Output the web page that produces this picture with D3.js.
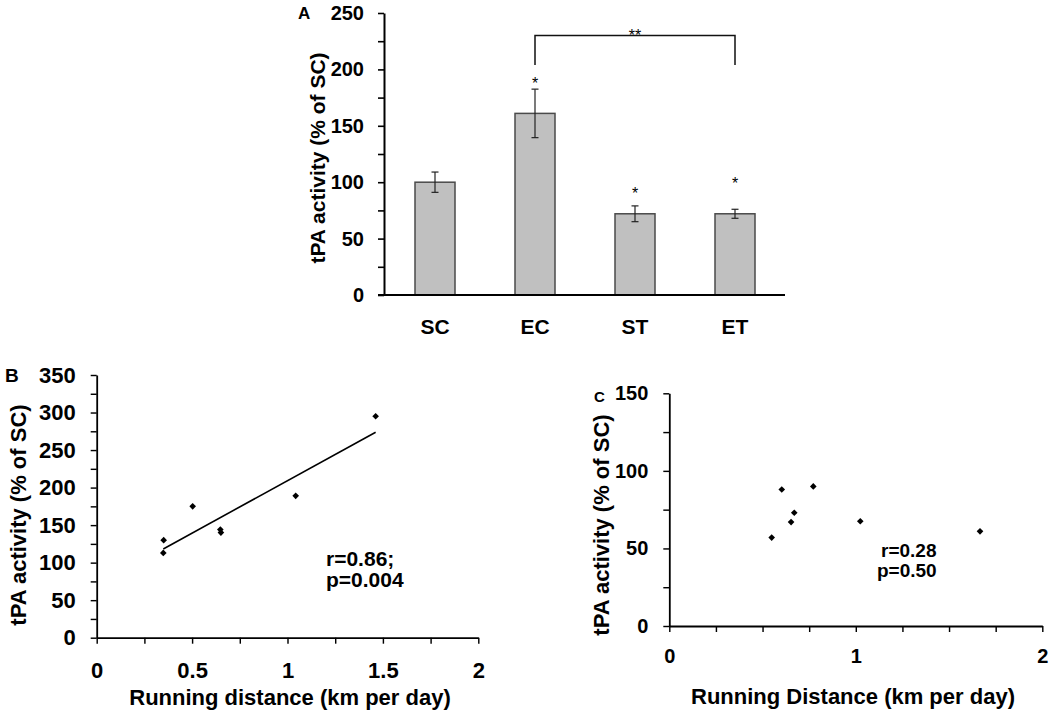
<!DOCTYPE html>
<html><head><meta charset="utf-8">
<script src="https://cdn.jsdelivr.net/npm/d3@7"></script>
<style>
body{margin:0;background:#fff}
text{font-family:"Liberation Sans",Arial,Helvetica,sans-serif;font-weight:bold;fill:#000}
</style>
</head><body>
<svg id="chart" width="1050" height="711" xmlns="http://www.w3.org/2000/svg"></svg>
<script>
// ---------------- DATA ----------------
const categoriesA = ["SC", "EC", "ST", "ET"];
const meansA = [100, 161, 72, 72];
const errorsA = [9, 21.5, 7, 4];
const starValuesA = [null, 191, 93, 102];
const bracketA = ["EC", "ET"];
const bracketLevelsA = [230, 204];
const bracketLabelA = "**";
const yTicksA = [0, 25, 50, 75, 100, 125, 150, 175, 200, 225, 250];

const distanceB = [1.462, 1.043, 0.503, 0.648, 0.651, 0.351, 0.349];
const tpaB = [295, 189, 175, 144, 140, 130, 113];
const yTicksB = [0, 25, 50, 75, 100, 125, 150, 175, 200, 225, 250, 275, 300, 325, 350];
const xTicksB = [0, 0.25, 0.5, 0.75, 1, 1.25, 1.5, 1.75, 2];
const statsB = ["r=0.86;", "p=0.004"];

const distanceC = [0.549, 0.603, 0.653, 0.670, 0.772, 1.024, 1.666];
const tpaC = [57, 88, 67, 73, 90, 67.5, 61];
const yTicksC = [0, 25, 50, 75, 100, 125, 150];
const xTicksC = [0, 0.25, 0.5, 0.75, 1, 1.25, 1.5, 1.75, 2];
const statsC = ["r=0.28", "p=0.50"];

const yTitle = "tPA activity (% of SC)";
const xTitleB = "Running distance (km per day)";
const xTitleC = "Running Distance (km per day)";

// ---------------- DRAW ----------------
const svg = d3.select("#chart");
svg.append("rect").attr("width", 1050).attr("height", 711).attr("fill", "#fff");

function styleAxis(g, w) {
  g.selectAll(".domain").attr("stroke", "#000").attr("stroke-width", w);
  g.selectAll(".tick line").attr("stroke", "#000").attr("stroke-width", w * 0.8);
  g.selectAll(".tick text").attr("fill", "#000").style("font-weight", "bold")
    .style("font-family", '"Liberation Sans",Arial,sans-serif');
}

// ===== Panel A =====
(function () {
  const g = svg.append("g");
  const y = d3.scaleLinear().domain([0, 250]).range([295, 13]);
  const x = d3.scaleBand().domain(categoriesA).range([385, 785]).paddingInner(0.6).paddingOuter(0.3);

  // bars
  g.selectAll("rect.bar").data(categoriesA).join("rect")
    .attr("x", d => x(d)).attr("width", x.bandwidth())
    .attr("y", (d, i) => y(meansA[i])).attr("height", (d, i) => y(0) - y(meansA[i]))
    .attr("fill", "#c0c0c0").attr("stroke", "#4a4a4a").attr("stroke-width", 1.5);

  // error bars
  categoriesA.forEach((c, i) => {
    const cx = x(c) + x.bandwidth() / 2;
    const t = y(meansA[i] + errorsA[i]), b = y(meansA[i] - errorsA[i]);
    g.append("line").attr("x1", cx).attr("x2", cx).attr("y1", t).attr("y2", b).attr("stroke", "#222").attr("stroke-width", 1.2);
    [t, b].forEach(v => g.append("line").attr("x1", cx - 3.5).attr("x2", cx + 3.5).attr("y1", v).attr("y2", v).attr("stroke", "#222").attr("stroke-width", 1.2));
    if (starValuesA[i] != null) {
      g.append("text").attr("x", cx).attr("y", y(starValuesA[i]) + 9).attr("text-anchor", "middle")
        .style("font-size", "16px").style("font-weight", "normal").text("*");
    }
  });

  // bracket
  const bx1 = x(bracketA[0]) + x.bandwidth() / 2, bx2 = x(bracketA[1]) + x.bandwidth() / 2;
  const bt = y(bracketLevelsA[0]), bb = y(bracketLevelsA[1]);
  g.append("path").attr("d", `M${bx1},${bb}V${bt}H${bx2}V${bb}`).attr("fill", "none").attr("stroke", "#111").attr("stroke-width", 1.5);
  g.append("text").attr("x", (bx1 + bx2) / 2).attr("y", bt + 5).attr("text-anchor", "middle")
    .style("font-size", "16px").style("font-weight", "normal").text(bracketLabelA);

  // axes
  const ya = g.append("g").attr("transform", `translate(384,0)`)
    .call(d3.axisLeft(y).tickValues(yTicksA).tickSize(6).tickSizeOuter(0).tickPadding(14)
      .tickFormat(d => d % 50 === 0 ? d : ""));
  styleAxis(ya, 2);
  ya.selectAll(".tick text").style("font-size", "20px");

  const xa = g.append("g").attr("transform", `translate(0,295)`)
    .call(d3.axisBottom(x).tickSize(0).tickSizeOuter(0).tickPadding(24));
  styleAxis(xa, 2);
  xa.select(".domain").attr("d", "M378,0H785");
  xa.selectAll(".tick text").style("font-size", "21px");

  g.append("text").attr("transform", "translate(325,158) rotate(-90)").attr("text-anchor", "middle")
    .style("font-size", "21px").text(yTitle);
  g.append("text").attr("x", 298).attr("y", 19).style("font-size", "17px").text("A");
})();

// ===== Panel B =====
(function () {
  const g = svg.append("g");
  const x = d3.scaleLinear().domain([0, 2]).range([96.7, 478.3]);
  const y = d3.scaleLinear().domain([0, 350]).range([637.7, 375]);

  const ya = g.append("g").attr("transform", `translate(${x(0)},0)`)
    .call(d3.axisLeft(y).tickValues(yTicksB).tickSize(6).tickSizeOuter(0).tickPadding(15)
      .tickFormat(d => d % 50 === 0 ? d : ""));
  styleAxis(ya, 1.8);
  ya.selectAll(".tick text").style("font-size", "22px");

  const xa = g.append("g").attr("transform", `translate(0,${y(0)})`)
    .call(d3.axisBottom(x).tickValues(xTicksB).tickSize(6).tickSizeOuter(0).tickPadding(19)
      .tickFormat(d => (d * 2) % 1 === 0 ? d3.format("")(d) : ""));
  styleAxis(xa, 1.8);
  xa.selectAll(".tick text").style("font-size", "22px");

  // regression line (least squares of the points)
  const mx = d3.mean(distanceB), my = d3.mean(tpaB);
  const sxy = d3.sum(distanceB, (d, i) => (d - mx) * (tpaB[i] - my));
  const sxx = d3.sum(distanceB, d => (d - mx) * (d - mx));
  const slope = sxy / sxx, icpt = my - slope * mx;
  const [xmin, xmax] = d3.extent(distanceB);
  g.append("line").attr("x1", x(xmin)).attr("x2", x(xmax))
    .attr("y1", y(icpt + slope * xmin)).attr("y2", y(icpt + slope * xmax))
    .attr("stroke", "#000").attr("stroke-width", 1.6);

  g.selectAll("path.pt").data(distanceB).join("path")
    .attr("d", d3.symbol(d3.symbolSquare, 22))
    .attr("transform", (d, i) => `translate(${x(d)},${y(tpaB[i])}) rotate(45)`)
    .attr("fill", "#000");

  g.append("text").attr("x", 326).attr("y", 566).style("font-size", "21px").text(statsB[0]);
  g.append("text").attr("x", 326).attr("y", 587).style("font-size", "21px").text(statsB[1]);

  g.append("text").attr("transform", "translate(26,515) rotate(-90)").attr("text-anchor", "middle")
    .style("font-size", "22px").text(yTitle);
  g.append("text").attr("x", 290).attr("y", 705).attr("text-anchor", "middle")
    .style("font-size", "22px").text(xTitleB);
  g.append("text").attr("x", 5).attr("y", 382).style("font-size", "19px").text("B");
})();

// ===== Panel C =====
(function () {
  const g = svg.append("g");
  const x = d3.scaleLinear().domain([0, 2]).range([669.3, 1042.3]);
  const y = d3.scaleLinear().domain([0, 150]).range([626, 393.3]);

  const ya = g.append("g").attr("transform", `translate(${x(0)},0)`)
    .call(d3.axisLeft(y).tickValues(yTicksC).tickSize(6).tickSizeOuter(0).tickPadding(15)
      .tickFormat(d => d % 50 === 0 ? d : ""));
  styleAxis(ya, 1.8);
  ya.selectAll(".tick text").style("font-size", "20px");

  const xa = g.append("g").attr("transform", `translate(0,${y(0)})`)
    .call(d3.axisBottom(x).tickValues(xTicksC).tickSize(6).tickSizeOuter(0).tickPadding(17)
      .tickFormat(d => d % 1 === 0 ? d : ""));
  styleAxis(xa, 1.8);
  xa.selectAll(".tick text").style("font-size", "20px");

  g.selectAll("path.pt").data(distanceC).join("path")
    .attr("d", d3.symbol(d3.symbolSquare, 22))
    .attr("transform", (d, i) => `translate(${x(d)},${y(tpaC[i])}) rotate(45)`)
    .attr("fill", "#000");

  g.append("text").attr("x", 881).attr("y", 557).style("font-size", "19px").text(statsC[0]);
  g.append("text").attr("x", 877).attr("y", 577).style("font-size", "19px").text(statsC[1]);

  g.append("text").attr("transform", "translate(609,525) rotate(-90)").attr("text-anchor", "middle")
    .style("font-size", "22px").text(yTitle);
  g.append("text").attr("x", 853).attr("y", 704).attr("text-anchor", "middle")
    .style("font-size", "22px").text(xTitleC);
  g.append("text").attr("x", 594).attr("y", 402).style("font-size", "15px").text("C");
})();
</script>
</body></html>
